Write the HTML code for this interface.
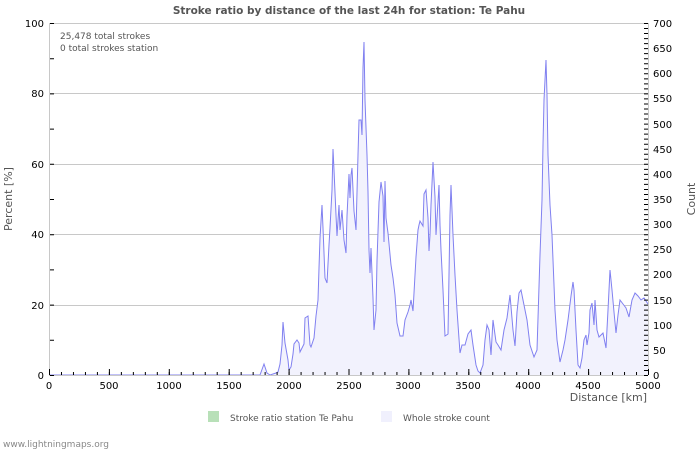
<!DOCTYPE html>
<html><head><meta charset="utf-8"><style>
html,body{margin:0;padding:0;background:#fff;}
svg{display:block;font-family:"DejaVu Sans","Liberation Sans",sans-serif;}
</style></head><body>
<svg width="700" height="450" viewBox="0 0 700 450" xmlns="http://www.w3.org/2000/svg">
<rect width="700" height="450" fill="#fff"/>
<text x="349" y="14" text-anchor="middle" font-size="10.5" font-weight="bold" fill="#555">Stroke ratio by distance of the last 24h for station: Te Pahu</text>
<g stroke="#c8c8c8" stroke-width="1">
<line x1="50" y1="23.5" x2="648" y2="23.5"/>
<line x1="50" y1="93.5" x2="648" y2="93.5"/>
<line x1="50" y1="164.5" x2="648" y2="164.5"/>
<line x1="50" y1="234.5" x2="648" y2="234.5"/>
<line x1="50" y1="305.5" x2="648" y2="305.5"/>
</g>
<polygon fill="#f2f2fd" stroke="none" points="49,375 260,375 264,364 267,373 270,375 276,373 278,372 280,364 282,345 283,322 285,343 288,360 289,370 291,367 293,354 294,344 297,340 299,343 300,352 302,348 304,344 305,318 308,316 310,345 311,347 314,338 316,316 318,300 319,268 320,238 322,205 323,228 325,278 327,283 329,245 330,228 332,190 333,149 334,170 336,215 337,236 339,205 340,230 342,210 344,240 346,253 347,216 349,174 350,198 351,175 352,168 354,211 356,230 358,155 359,120 361,120 362,135 363,68 364,42 365,100 367,155 368,192 369,250 370,273 371,248 373,298 374,330 376,310 377,261 379,202 381,182 383,196 384,242 385,181 386,218 388,233 391,265 393,278 395,295 397,323 400,336 403,336 405,320 408,312 410,305 411,300 413,311 416,257 418,230 419,225 420,221 423,226 424,194 426,190 428,218 429,251 430,235 431,205 433,162 435,197 436,235 438,202 439,185 440,225 441,250 443,290 445,336 448,334 450,215 451,185 453,235 455,275 457,310 460,353 462,345 465,345 468,334 471,330 473,345 476,365 478,371 480,373 483,365 485,340 487,325 489,330 491,355 493,320 496,342 498,345 501,350 504,330 507,318 510,295 513,330 515,346 517,312 519,293 521,290 523,300 527,320 530,345 534,357 537,350 540,255 542,200 543,145 544,100 545,80 546,60 547,95 548,155 550,205 552,235 555,310 557,340 560,362 563,350 565,340 568,320 571,296 573,282 574,290 576,330 578,365 580,368 582,358 584,340 586,335 587,345 589,333 590,310 592,303 594,325 595,300 597,330 599,337 603,333 606,348 608,310 610,270 612,290 614,312 616,333 618,315 620,300 623,304 626,308 629,317 632,300 635,293 638,296 641,300 644,298 648,304 648,375"/>
<polyline fill="none" stroke="#8080f0" stroke-width="1" points="49,375 260,375 264,364 267,373 270,375 276,373 278,372 280,364 282,345 283,322 285,343 288,360 289,370 291,367 293,354 294,344 297,340 299,343 300,352 302,348 304,344 305,318 308,316 310,345 311,347 314,338 316,316 318,300 319,268 320,238 322,205 323,228 325,278 327,283 329,245 330,228 332,190 333,149 334,170 336,215 337,236 339,205 340,230 342,210 344,240 346,253 347,216 349,174 350,198 351,175 352,168 354,211 356,230 358,155 359,120 361,120 362,135 363,68 364,42 365,100 367,155 368,192 369,250 370,273 371,248 373,298 374,330 376,310 377,261 379,202 381,182 383,196 384,242 385,181 386,218 388,233 391,265 393,278 395,295 397,323 400,336 403,336 405,320 408,312 410,305 411,300 413,311 416,257 418,230 419,225 420,221 423,226 424,194 426,190 428,218 429,251 430,235 431,205 433,162 435,197 436,235 438,202 439,185 440,225 441,250 443,290 445,336 448,334 450,215 451,185 453,235 455,275 457,310 460,353 462,345 465,345 468,334 471,330 473,345 476,365 478,371 480,373 483,365 485,340 487,325 489,330 491,355 493,320 496,342 498,345 501,350 504,330 507,318 510,295 513,330 515,346 517,312 519,293 521,290 523,300 527,320 530,345 534,357 537,350 540,255 542,200 543,145 544,100 545,80 546,60 547,95 548,155 550,205 552,235 555,310 557,340 560,362 563,350 565,340 568,320 571,296 573,282 574,290 576,330 578,365 580,368 582,358 584,340 586,335 587,345 589,333 590,310 592,303 594,325 595,300 597,330 599,337 603,333 606,348 608,310 610,270 612,290 614,312 616,333 618,315 620,300 623,304 626,308 629,317 632,300 635,293 638,296 641,300 644,298 648,304"/>
<g stroke="#c8c8c8"><line x1="49.5" y1="23" x2="49.5" y2="375"/><line x1="648.5" y1="23" x2="648.5" y2="375"/><line x1="49" y1="375.5" x2="648" y2="375.5"/></g>
<g stroke="#000" fill="none">
<line x1="49" y1="373.5" x2="650" y2="373.5" stroke-width="3" stroke-dasharray="1 10.98"/>
<line x1="49" y1="372" x2="650" y2="372" stroke-width="6" stroke-dasharray="1 58.9"/>
<line x1="52" y1="23" x2="52" y2="376" stroke-width="4" stroke-dasharray="1 34.2"/>
<line x1="646" y1="23" x2="646" y2="376" stroke-width="4" stroke-dasharray="1 4.029"/>
</g>
<g font-size="10" fill="#000" text-anchor="end">
<text x="44" y="27">100</text><text x="44" y="97">80</text><text x="44" y="168">60</text><text x="44" y="238">40</text><text x="44" y="309">20</text><text x="44" y="379">0</text>
</g>
<g font-size="10" fill="#000" text-anchor="start">
<text x="653" y="27">700</text><text x="653" y="52">650</text><text x="653" y="77">600</text><text x="653" y="102">550</text><text x="653" y="128">500</text><text x="653" y="153">450</text><text x="653" y="178">400</text><text x="653" y="203">350</text><text x="653" y="228">300</text><text x="653" y="253">250</text><text x="653" y="278">200</text><text x="653" y="304">150</text><text x="653" y="329">100</text><text x="653" y="354">50</text><text x="653" y="379">0</text>
</g>
<g font-size="10" fill="#000" text-anchor="middle">
<text x="49" y="389">0</text><text x="109" y="389">500</text><text x="169" y="389">1000</text><text x="229" y="389">1500</text><text x="289" y="389">2000</text><text x="349" y="389">2500</text><text x="408" y="389">3000</text><text x="468" y="389">3500</text><text x="528" y="389">4000</text><text x="588" y="389">4500</text><text x="648" y="389">5000</text>
</g>
<text x="647" y="401" text-anchor="end" font-size="11" fill="#555">Distance   [km]</text>
<text transform="translate(12,199) rotate(-90)" text-anchor="middle" font-size="11" fill="#555">Percent   [%]</text>
<text transform="translate(695,199) rotate(-90)" text-anchor="middle" font-size="11" fill="#555">Count</text>
<text x="60" y="39" font-size="9" fill="#555">25,478 total strokes</text>
<text x="60" y="51" font-size="9" fill="#555">0 total strokes station</text>
<rect x="208" y="411" width="11" height="11" fill="#b8e0b8"/>
<text x="230" y="421" font-size="9" fill="#555">Stroke ratio station Te Pahu</text>
<rect x="381" y="411" width="11" height="11" fill="#f0f0fd"/>
<text x="403" y="421" font-size="9" fill="#555">Whole stroke count</text>
<text x="3" y="447" font-size="9" fill="#888">www.lightningmaps.org</text>
</svg>
</body></html>
